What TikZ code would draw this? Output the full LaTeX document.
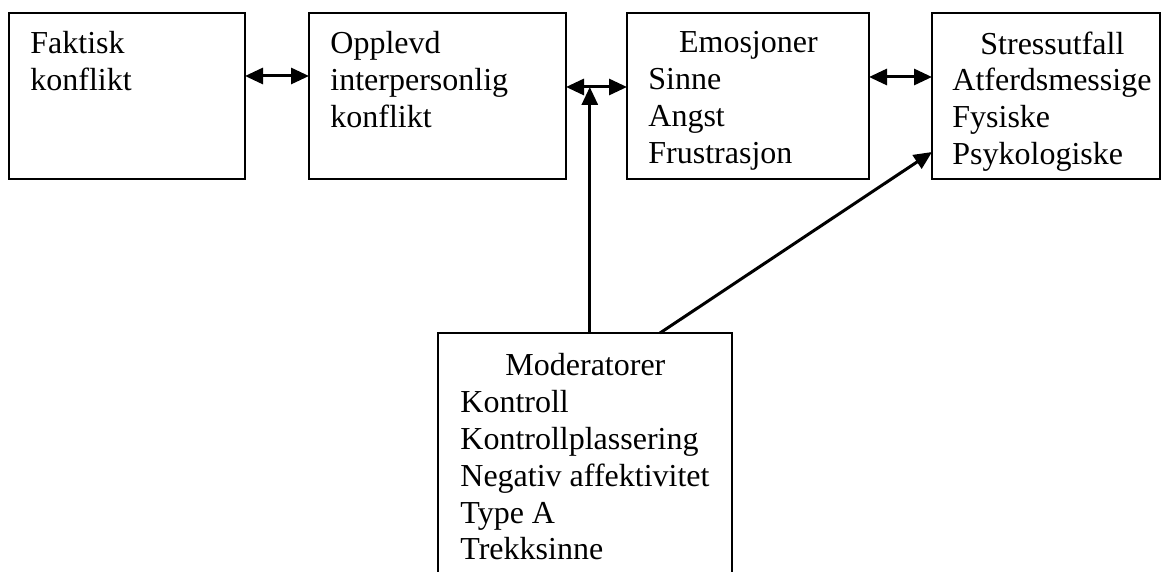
\documentclass[tikz,border=0pt]{standalone}
\usepackage{fontspec}
\setmainfont{Liberation Serif}
\usetikzlibrary{arrows.meta}
\newcommand{\boxhead}[2][100pt]{\makebox[#1]{#2}}

\begin{document}
\begin{tikzpicture}[x=0.5pt, y=-0.5pt,
  blk/.style={draw, line width=1pt, inner sep=0pt, outer sep=0pt, minimum height=83pt},
  txt/.style={anchor=north west, inner sep=0pt, align=left, font=\fontsize{16pt}{18.4pt}\selectfont},
  link/.style={line width=1.5pt, -{Triangle[length=9pt,width=8pt]}},
  both/.style={line width=1.5pt, {Triangle[length=9pt,width=8pt]}-{Triangle[length=9pt,width=8pt]}}]
  \clip (0,0) rectangle (1167,572);
  % boxes
  \node[blk, minimum width=118pt] (fak) at (127,96) {};
  \node[blk, minimum width=128.5pt] (opp) at (437.5,96) {};
  \node[blk, minimum width=121pt] (emo) at (748,96) {};
  \node[blk, minimum width=114pt] (str) at (1046,96) {};
  \node[blk, minimum width=147pt, minimum height=150pt] (mod) at (585,483) {};
  % texts
  \node[txt] (fakt) at ([xshift=10.5pt,yshift=-9.1pt]fak.north west) {Faktisk\\konflikt};
  \node[txt] (oppt) at ([xshift=10.5pt,yshift=-9.1pt]opp.north west) {Opplevd\\interpersonlig\\konflikt};
  \node[txt] (emot) at ([xshift=10.5pt,yshift=-9.1pt]emo.north west) {\boxhead{Emosjoner}\\Sinne\\Angst\\Frustrasjon};
  \node[txt] (strt) at ([xshift=10pt,yshift=-9.1pt]str.north west) {\boxhead{Stressutfall}\\Atferdsmessige\\Fysiske\\Psykologiske};
  \node[txt] (modt) at ([xshift=11pt,yshift=-10.1pt]mod.north west) {\boxhead[125pt]{Moderatorer}\\Kontroll\\Kontrollplassering\\Negativ affektivitet\\Type A\\Trekksinne};
  % connectors
  \draw[both] ([yshift=10pt]fak.east) -- ([yshift=10pt]opp.west);
  \draw[both] ([yshift=4.5pt]opp.east) -- coordinate[pos=0.39] (jn) ([yshift=4.5pt]emo.west);
  \draw[both] ([yshift=9.5pt]emo.east) -- ([yshift=9.5pt]str.west);
  \draw[link] (mod.north -| jn) -- (jn);
  \draw[link] ([xshift=37.5pt]mod.north) -- ([yshift=-28pt]str.west);
\end{tikzpicture}
\end{document}
